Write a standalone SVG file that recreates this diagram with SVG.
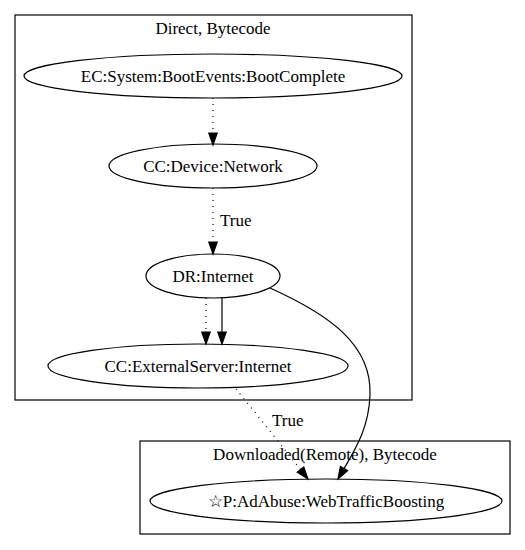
<svg xmlns="http://www.w3.org/2000/svg" width="525" height="550" viewBox="0 0 525 550">
<style>
text{font-family:"Liberation Serif","Times New Roman",serif;font-size:17px;fill:#000}
.c{text-anchor:middle}
.cl{fill:none;stroke:#000;stroke-width:1.2}
.n{fill:none;stroke:#000;stroke-width:1.2}
.e{fill:none;stroke:#000;stroke-width:1.2}
.d{stroke-dasharray:1,5}
.ah{fill:#000;stroke:#000;stroke-width:1.2}
</style>
<rect width="525" height="550" fill="#fff"/>
<g id="cluster_direct">
<rect class="cl" x="15" y="15" width="397" height="385"/>
<text class="c" x="213" y="34">Direct, Bytecode</text>
</g>
<g id="cluster_downloaded">
<rect class="cl" x="140" y="441" width="370" height="93"/>
<text class="c" x="325" y="460">Downloaded(Remote), Bytecode</text>
</g>
<g id="connectors">
<path class="e d" d="M213,98 L213,133"/>
<polygon class="ah" points="213,145 208.8,133 217.2,133"/>
<path class="e d" d="M213,188 L213,242"/>
<polygon class="ah" points="213,254 208.8,242 217.2,242"/>
<text x="220" y="226">True</text>
<path class="e d" d="M206,298 L206,332"/>
<polygon class="ah" points="206,344 201.8,332 210.2,332"/>
<path class="e" d="M222,298 L222,332"/>
<polygon class="ah" points="222,344 217.8,332 226.2,332"/>
<path class="e" d="M270,288 C330,315 372,345 370,395 C369,425 358,445 344,468.6"/>
<polygon class="ah" points="338,479 347.6,470.7 340.4,466.5"/>
<path class="e d" d="M236,389 C255,412 285,450 300.5,469.6"/>
<polygon class="ah" points="308,479 297.2,472.2 303.8,467"/>
<text x="272" y="426">True</text>
</g>
<g id="node_ec">
<ellipse class="n" cx="213" cy="76" rx="189" ry="22"/>
<text class="c" x="213" y="82">EC:System:BootEvents:BootComplete</text>
</g>
<g id="node_ccdevice">
<ellipse class="n" cx="213" cy="166" rx="104" ry="22"/>
<text class="c" x="213" y="172">CC:Device:Network</text>
</g>
<g id="node_dr">
<ellipse class="n" cx="213" cy="276" rx="67" ry="22"/>
<text class="c" x="213" y="282">DR:Internet</text>
</g>
<g id="node_ccext">
<ellipse class="n" cx="198" cy="366" rx="150" ry="22"/>
<text class="c" x="198" y="372">CC:ExternalServer:Internet</text>
</g>
<g id="node_p">
<ellipse class="n" cx="326" cy="501" rx="176" ry="22"/>
<text class="c" x="326" y="507">☆P:AdAbuse:WebTrafficBoosting</text>
</g>
</svg>
